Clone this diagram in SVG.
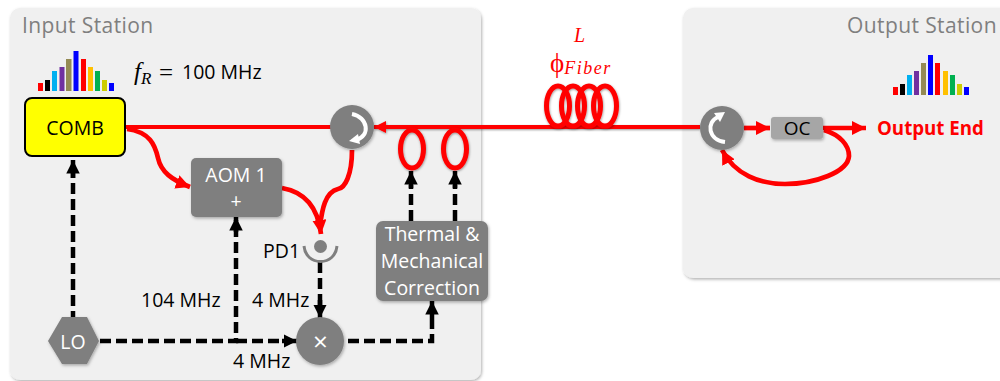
<svg xmlns="http://www.w3.org/2000/svg" width="1000" height="381" viewBox="0 0 1000 381">
<defs>
<filter id="sh" x="-10%" y="-10%" width="125%" height="125%"><feDropShadow dx="1" dy="1.5" stdDeviation="1.5" flood-color="#000" flood-opacity="0.3"/></filter>
<filter id="shr" filterUnits="userSpaceOnUse" x="0" y="0" width="1000" height="381"><feDropShadow dx="0.5" dy="1" stdDeviation="1" flood-color="#000" flood-opacity="0.4"/></filter>
<marker id="ar" viewBox="0 0 10 10" refX="10" refY="5" markerWidth="3" markerHeight="3" orient="auto" markerUnits="strokeWidth"><path d="M0 0L10 5L0 10Z" fill="#f00"/></marker>
<marker id="ak" viewBox="0 0 10 10" refX="10" refY="5" markerWidth="3" markerHeight="3" orient="auto" markerUnits="strokeWidth"><path d="M0 0L10 5L0 10Z" fill="#000"/></marker>
</defs>
<style>
text{font-family:"Open Sans","Noto Sans","Liberation Sans",sans-serif}
.t{font-size:19.500px;fill:#000}
.w{font-size:19.500px;fill:#fff;text-anchor:middle}
.h{font-size:21px;fill:#7f7f7f;letter-spacing:.4px}
.m{font-family:"Liberation Serif",serif;font-style:italic;fill:#f00}
.box{fill:#7f7f7f}
.r{fill:none;stroke:#f00;stroke-width:4}
.r5{fill:none;stroke:#f00;stroke-width:4.700}
.k{fill:none;stroke:#000;stroke-width:4.500;stroke-dasharray:11 5}
.ks{fill:none;stroke:#000;stroke-width:4.500}
.c{fill:none;stroke:#f00;stroke-width:5}
</style>
<rect id="input-panel" x="10" y="8" width="471" height="372" rx="10" fill="#f0f0f0" filter="url(#sh)"/>
<rect id="output-panel" x="683" y="8" width="330" height="270" rx="10" fill="#f0f0f0" filter="url(#sh)"/>
<text x="22" y="33" class="h">Input Station</text>
<text x="847" y="33" class="h">Output Station</text>

<g id="comb-spectrum-in">
<rect x="38" y="83" width="5" height="8" fill="#f00"/><rect x="45" y="80" width="5" height="11" fill="#000"/><rect x="52" y="71" width="5" height="20" fill="#00b0f0"/><rect x="59.500" y="67" width="5" height="24" fill="#7030a0"/><rect x="66" y="59" width="5.500" height="32" fill="#948a54"/><rect x="73.500" y="51" width="5" height="40" fill="#00f"/><rect x="81" y="59" width="5" height="32" fill="#f00"/><rect x="88" y="67" width="5" height="24" fill="#ffc000"/><rect x="95" y="71" width="5" height="20" fill="#00b050"/><rect x="102" y="80" width="5" height="11" fill="#cc0"/><rect x="109" y="83" width="5" height="8" fill="#00f"/>
</g>
<g id="comb-spectrum-out">
<rect x="893" y="87" width="5" height="8" fill="#f00"/><rect x="900" y="84" width="5" height="11" fill="#000"/><rect x="907" y="75" width="5" height="20" fill="#00b0f0"/><rect x="914" y="71" width="5" height="24" fill="#7030a0"/><rect x="921" y="63" width="5" height="32" fill="#948a54"/><rect x="928" y="55" width="5" height="40" fill="#00f"/><rect x="935" y="63" width="5" height="32" fill="#f00"/><rect x="943" y="71" width="5" height="24" fill="#ffc000"/><rect x="950" y="75" width="5" height="20" fill="#00b050"/><rect x="957" y="84" width="5" height="11" fill="#cc0"/><rect x="964" y="87" width="5" height="8" fill="#00f"/>
</g>
<text x="134" y="80" font-size="25" style="font-family:'Liberation Serif',serif;font-style:italic">f<tspan font-size="17" dy="4">R</tspan></text>
<text x="159" y="81" style="font-family:'Liberation Serif',serif" font-size="25">=</text>
<text x="182" y="79" class="t">100 MHz</text>
<text x="574" y="42" class="m" font-size="20">L</text>
<text x="550" y="72" class="m" font-size="27" style="font-style:normal">ϕ<tspan font-size="18" dy="2" style="font-style:italic" letter-spacing="1.500">Fiber</tspan></text>

<g id="connectors">
<path class="r" d="M126 127H332"/>
<path class="r" d="M700 127H374" marker-end="url(#ar)" filter="url(#shr)"/>
<path class="r5" d="M127 129C150 132 155 145 158 158C161 172 172 180 190 187" marker-end="url(#ar)"/>
<path class="r5" d="M282 188C305 192 318 208 321 234" marker-end="url(#ar)"/>
<path class="r5" d="M352 150C352 175 345 188 338 189C325 192 322 210 320 226"/>
<g class="coil" filter="url(#shr)">
<ellipse class="c" cx="558" cy="106" rx="11.500" ry="20"/><ellipse class="c" cx="573" cy="106" rx="11.500" ry="20"/><ellipse class="c" cx="589" cy="106" rx="11.500" ry="20"/><ellipse class="c" cx="605" cy="106" rx="11.500" ry="20"/>
<ellipse class="c" cx="412" cy="149" rx="11.500" ry="19"/><ellipse class="c" cx="455" cy="149" rx="11.500" ry="19"/>
</g>
<path class="r5" d="M744 128H770" marker-end="url(#ar)"/>
<path class="r5" d="M823 128H866" marker-end="url(#ar)"/>
<path class="r5" d="M824 130C840 135 849 145 849 156C848 172 815 184 785 184C760 184 735 175 722 150" marker-end="url(#ar)"/>
<path class="k" d="M73 322V166"/><path class="ks" d="M73 178V160" marker-end="url(#ak)"/>
<path class="k" d="M100 341H236V220"/><path class="ks" d="M236 232V217" marker-end="url(#ak)"/>
<path class="k" d="M236 341H285"/><path class="ks" d="M282 341H297" marker-end="url(#ak)"/>
<path class="k" d="M320 262V308"/><path class="ks" d="M320 300V318" marker-end="url(#ak)"/>
<path class="k" d="M348 341H432V312"/><path class="ks" d="M432 318V301" marker-end="url(#ak)"/>
<path class="k" d="M411 221V185"/><path class="ks" d="M411 188V171" marker-end="url(#ak)"/>
<path class="k" d="M455 221V185"/><path class="ks" d="M455 188V171" marker-end="url(#ak)"/>
</g>

<g id="comb"><rect x="25" y="98" width="100" height="58" rx="7" fill="#ff0" stroke="#000" stroke-width="2"/><text x="75" y="135" font-size="19.500" text-anchor="middle">COMB</text></g>
<g id="aom"><rect x="191" y="158" width="91" height="59" rx="5" class="box" filter="url(#sh)"/><text x="236" y="182" class="w">AOM 1</text><text x="236" y="208" class="w">+</text></g>
<g id="circ-in"><circle cx="352" cy="127" r="22" class="box" filter="url(#sh)"/><path d="M352 114C368 117 371 136 356 140" fill="none" stroke="#fff" stroke-width="4"/><path d="M349 141L358 134L360 144Z" fill="#fff"/></g>
<g id="circ-out"><circle cx="722" cy="128" r="22" class="box" filter="url(#sh)"/><path d="M725 142C708 140 706 122 718 117" fill="none" stroke="#fff" stroke-width="4"/><path d="M725 112L714 113L720 122Z" fill="#fff"/></g>
<g id="oc"><rect x="771" y="117" width="52" height="22" rx="3" fill="#a6a6a6" filter="url(#sh)"/><text x="797" y="135" font-size="19" text-anchor="middle">OC</text></g>
<text id="output-end" x="877" y="135" font-size="18.700" font-weight="700" fill="#f00">Output End</text>
<g id="pd1"><circle cx="320.500" cy="246.500" r="6.500" class="box"/><path d="M304 246C305 256 312 261.500 320.500 261.500C329 261.500 336 256 337 246" fill="none" stroke="#7f7f7f" stroke-width="3"/><text x="263" y="258" class="t">PD1</text></g>
<g id="correction"><rect x="376" y="221" width="112" height="80" rx="7" class="box" filter="url(#sh)"/><text x="432" y="241" class="w">Thermal &amp;</text><text x="432" y="268" class="w">Mechanical</text><text x="432" y="295" class="w">Correction</text></g>
<g id="lo"><path d="M48 341L62 317H87L99 341L87 364H62Z" class="box" filter="url(#sh)"/><text x="73" y="349" class="w">LO</text></g>
<g id="mixer"><circle cx="320" cy="341" r="24" class="box" filter="url(#sh)"/><text x="320.500" y="351" font-size="26" fill="#fff" text-anchor="middle">×</text></g>
<text x="141" y="307" class="t">104 MHz</text>
<text x="252" y="307" class="t">4 MHz</text>
<text x="233" y="368" class="t">4 MHz</text>
</svg>
